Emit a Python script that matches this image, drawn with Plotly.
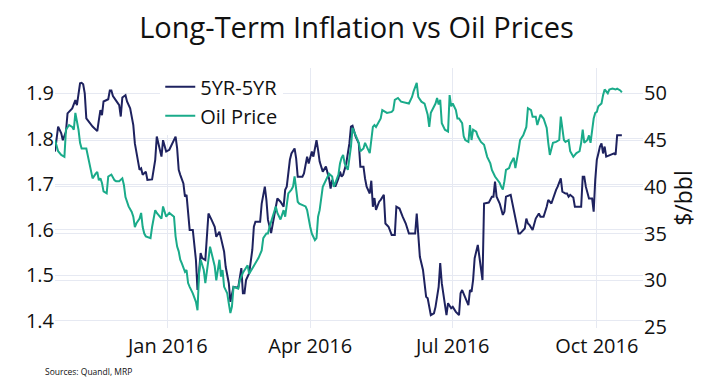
import plotly.graph_objects as go

inflation_dates = [
    "2015-10-21", "2015-10-23", "2015-10-25", "2015-10-26", "2015-10-28", "2015-10-29",
    "2015-11-01", "2015-11-03", "2015-11-04", "2015-11-06", "2015-11-07", "2015-11-08",
    "2015-11-09", "2015-11-10", "2015-11-14", "2015-11-17", "2015-11-18", "2015-11-19",
    "2015-11-20", "2015-11-21", "2015-11-24", "2015-11-25", "2015-11-26", "2015-11-27",
    "2015-11-29", "2015-12-01", "2015-12-02", "2015-12-03", "2015-12-05", "2015-12-06",
    "2015-12-08", "2015-12-10", "2015-12-11", "2015-12-13", "2015-12-14", "2015-12-15",
    "2015-12-16", "2015-12-18", "2015-12-19", "2015-12-22", "2015-12-24", "2015-12-25",
    "2015-12-26", "2015-12-28", "2015-12-29", "2015-12-31", "2016-01-02", "2016-01-04",
    "2016-01-06", "2016-01-07", "2016-01-08", "2016-01-09", "2016-01-11", "2016-01-12",
    "2016-01-13", "2016-01-15", "2016-01-17", "2016-01-19", "2016-01-20", "2016-01-22",
    "2016-01-23", "2016-01-25", "2016-01-27", "2016-01-29", "2016-01-31", "2016-02-01",
    "2016-02-03", "2016-02-04", "2016-02-06", "2016-02-07", "2016-02-09", "2016-02-10",
    "2016-02-12", "2016-02-15", "2016-02-17", "2016-02-18", "2016-02-19", "2016-02-20",
    "2016-02-22", "2016-02-24", "2016-02-25", "2016-02-26", "2016-02-29", "2016-03-01",
    "2016-03-03", "2016-03-04", "2016-03-05", "2016-03-07", "2016-03-09", "2016-03-11",
    "2016-03-13", "2016-03-15", "2016-03-16", "2016-03-17", "2016-03-19", "2016-03-20",
    "2016-03-22", "2016-03-23", "2016-03-24", "2016-03-27", "2016-03-28", "2016-03-30",
    "2016-03-31", "2016-04-02", "2016-04-03", "2016-04-05", "2016-04-06", "2016-04-07",
    "2016-04-09", "2016-04-11", "2016-04-13", "2016-04-14", "2016-04-15", "2016-04-17",
    "2016-04-19", "2016-04-20", "2016-04-21", "2016-04-22", "2016-04-24", "2016-04-26",
    "2016-04-27", "2016-04-28", "2016-04-30", "2016-05-02", "2016-05-03", "2016-05-05",
    "2016-05-06", "2016-05-07", "2016-05-09", "2016-05-10", "2016-05-11", "2016-05-12",
    "2016-05-13", "2016-05-15", "2016-05-16", "2016-05-18", "2016-05-19", "2016-05-21",
    "2016-05-23", "2016-05-25", "2016-05-26", "2016-05-28", "2016-05-30", "2016-06-01",
    "2016-06-03", "2016-06-07", "2016-06-08", "2016-06-09", "2016-06-10", "2016-06-12",
    "2016-06-13", "2016-06-14", "2016-06-15", "2016-06-16", "2016-06-17", "2016-06-19",
    "2016-06-20", "2016-06-22", "2016-06-23", "2016-06-24", "2016-06-26", "2016-06-27",
    "2016-06-28", "2016-06-30", "2016-07-01", "2016-07-03", "2016-07-05", "2016-07-06",
    "2016-07-07", "2016-07-09", "2016-07-11", "2016-07-12", "2016-07-13", "2016-07-14",
    "2016-07-15", "2016-07-17", "2016-07-19", "2016-07-20", "2016-07-21", "2016-07-23",
    "2016-07-24", "2016-07-26", "2016-07-27", "2016-07-28", "2016-07-29", "2016-07-31",
    "2016-08-02", "2016-08-03", "2016-08-04", "2016-08-07", "2016-08-10", "2016-08-11",
    "2016-08-12", "2016-08-13", "2016-08-15", "2016-08-16", "2016-08-17", "2016-08-18",
    "2016-08-19", "2016-08-21", "2016-08-23", "2016-08-25", "2016-08-26", "2016-08-28",
    "2016-08-30", "2016-08-31", "2016-09-02", "2016-09-03", "2016-09-05", "2016-09-06",
    "2016-09-08", "2016-09-09", "2016-09-11", "2016-09-12", "2016-09-13", "2016-09-14",
    "2016-09-16", "2016-09-17", "2016-09-21", "2016-09-22", "2016-09-23", "2016-09-24",
    "2016-09-26", "2016-09-28", "2016-09-29", "2016-09-30", "2016-10-01", "2016-10-02",
    "2016-10-03", "2016-10-04", "2016-10-05", "2016-10-06", "2016-10-07", "2016-10-12",
    "2016-10-13", "2016-10-14", "2016-10-17",
]
inflation_values = [
    1.772, 1.827, 1.812, 1.797, 1.816, 1.856,
    1.867, 1.885, 1.874, 1.922, 1.923, 1.920,
    1.900, 1.845, 1.827, 1.817, 1.841, 1.863,
    1.852, 1.882, 1.887, 1.906, 1.906, 1.894,
    1.884, 1.874, 1.849, 1.891, 1.896, 1.882,
    1.867, 1.830, 1.790, 1.746, 1.732, 1.735,
    1.721, 1.728, 1.710, 1.711, 1.754, 1.805,
    1.790, 1.761, 1.797, 1.772, 1.776, 1.790,
    1.805, 1.779, 1.732, 1.721, 1.702, 1.673,
    1.677, 1.600, 1.600, 1.534, 1.468, 1.549,
    1.538, 1.534, 1.636, 1.622, 1.607, 1.585,
    1.596, 1.582, 1.552, 1.519, 1.483, 1.442,
    1.475, 1.473, 1.516, 1.461, 1.461, 1.490,
    1.505, 1.556, 1.607, 1.618, 1.618, 1.658,
    1.695, 1.666, 1.622, 1.593, 1.636, 1.669,
    1.662, 1.651, 1.688, 1.695, 1.754, 1.768,
    1.779, 1.757, 1.717, 1.717, 1.724, 1.761,
    1.746, 1.772, 1.761, 1.797, 1.776, 1.750,
    1.728, 1.739, 1.713, 1.691, 1.710, 1.695,
    1.713, 1.728, 1.717, 1.721, 1.746, 1.790,
    1.827, 1.829, 1.805, 1.790, 1.739, 1.739,
    1.713, 1.695, 1.680, 1.708, 1.651, 1.670,
    1.644, 1.662, 1.666, 1.677, 1.614, 1.607,
    1.589, 1.589, 1.651, 1.647, 1.629, 1.614,
    1.592, 1.592, 1.636, 1.592, 1.541, 1.512,
    1.486, 1.453, 1.450, 1.431, 1.413, 1.417,
    1.431, 1.475, 1.527, 1.483, 1.431, 1.413,
    1.439, 1.428, 1.431, 1.420, 1.413, 1.461,
    1.468, 1.450, 1.435, 1.468, 1.464, 1.490,
    1.538, 1.567, 1.519, 1.490, 1.658, 1.660,
    1.660, 1.673, 1.673, 1.706, 1.673, 1.658,
    1.633, 1.640, 1.673, 1.677, 1.622, 1.607,
    1.592, 1.592, 1.600, 1.603, 1.625, 1.614,
    1.611, 1.600, 1.625, 1.636, 1.629, 1.629,
    1.651, 1.666, 1.658, 1.669, 1.688, 1.695,
    1.713, 1.684, 1.680, 1.680, 1.673, 1.677,
    1.671, 1.651, 1.651, 1.717, 1.717, 1.695,
    1.669, 1.669, 1.640, 1.710, 1.754, 1.768,
    1.783, 1.790, 1.768, 1.783, 1.761, 1.768,
    1.765, 1.808, 1.808,
]

oil_dates = [
    "2015-10-21", "2015-10-23", "2015-10-25", "2015-10-27", "2015-10-28", "2015-10-30",
    "2015-11-01", "2015-11-02", "2015-11-03", "2015-11-05", "2015-11-06", "2015-11-07",
    "2015-11-10", "2015-11-11", "2015-11-13", "2015-11-14", "2015-11-16", "2015-11-17",
    "2015-11-18", "2015-11-19", "2015-11-20", "2015-11-21", "2015-11-23", "2015-11-24",
    "2015-11-26", "2015-11-28", "2015-11-29", "2015-12-01", "2015-12-03", "2015-12-04",
    "2015-12-05", "2015-12-06", "2015-12-07", "2015-12-09", "2015-12-10", "2015-12-11",
    "2015-12-12", "2015-12-14", "2015-12-15", "2015-12-16", "2015-12-17", "2015-12-18",
    "2015-12-21", "2015-12-22", "2015-12-24", "2015-12-25", "2015-12-27", "2015-12-28",
    "2015-12-29", "2015-12-30", "2015-12-31", "2016-01-02", "2016-01-05", "2016-01-06",
    "2016-01-07", "2016-01-08", "2016-01-09", "2016-01-10", "2016-01-12", "2016-01-13",
    "2016-01-14", "2016-01-15", "2016-01-17", "2016-01-19", "2016-01-20", "2016-01-21",
    "2016-01-22", "2016-01-24", "2016-01-25", "2016-01-27", "2016-01-28", "2016-01-29",
    "2016-01-30", "2016-01-31", "2016-02-01", "2016-02-03", "2016-02-04", "2016-02-05",
    "2016-02-06", "2016-02-07", "2016-02-08", "2016-02-09", "2016-02-10", "2016-02-11",
    "2016-02-12", "2016-02-15", "2016-02-16", "2016-02-18", "2016-02-19", "2016-02-21",
    "2016-02-22", "2016-02-25", "2016-02-28", "2016-03-01", "2016-03-02", "2016-03-04",
    "2016-03-05", "2016-03-06", "2016-03-08", "2016-03-10", "2016-03-11", "2016-03-13",
    "2016-03-14", "2016-03-15", "2016-03-16", "2016-03-17", "2016-03-18", "2016-03-20",
    "2016-03-21", "2016-03-22", "2016-03-23", "2016-03-24", "2016-03-25", "2016-03-29",
    "2016-03-30", "2016-03-31", "2016-04-01", "2016-04-02", "2016-04-04", "2016-04-05",
    "2016-04-06", "2016-04-07", "2016-04-08", "2016-04-09", "2016-04-11", "2016-04-13",
    "2016-04-15", "2016-04-16", "2016-04-17", "2016-04-19", "2016-04-20", "2016-04-21",
    "2016-04-22", "2016-04-23", "2016-04-25", "2016-04-27", "2016-04-28", "2016-04-30",
    "2016-05-02", "2016-05-03", "2016-05-05", "2016-05-06", "2016-05-07", "2016-05-09",
    "2016-05-11", "2016-05-12", "2016-05-13", "2016-05-16", "2016-05-17", "2016-05-19",
    "2016-05-20", "2016-05-23", "2016-05-24", "2016-05-25", "2016-05-27", "2016-05-29",
    "2016-06-02", "2016-06-03", "2016-06-05", "2016-06-06", "2016-06-08", "2016-06-09",
    "2016-06-11", "2016-06-13", "2016-06-15", "2016-06-16", "2016-06-17", "2016-06-19",
    "2016-06-20", "2016-06-21", "2016-06-22", "2016-06-23", "2016-06-24", "2016-06-26",
    "2016-06-28", "2016-06-29", "2016-06-30", "2016-07-01", "2016-07-03", "2016-07-04",
    "2016-07-05", "2016-07-07", "2016-07-08", "2016-07-09", "2016-07-11", "2016-07-12",
    "2016-07-13", "2016-07-14", "2016-07-16", "2016-07-17", "2016-07-19", "2016-07-21",
    "2016-07-23", "2016-07-25", "2016-07-26", "2016-07-28", "2016-07-31", "2016-08-01",
    "2016-08-02", "2016-08-03", "2016-08-04", "2016-08-06", "2016-08-07", "2016-08-09",
    "2016-08-10", "2016-08-12", "2016-08-13", "2016-08-15", "2016-08-17", "2016-08-18",
    "2016-08-20", "2016-08-21", "2016-08-23", "2016-08-24", "2016-08-25", "2016-08-26",
    "2016-08-28", "2016-08-30", "2016-08-31", "2016-09-01", "2016-09-03", "2016-09-05",
    "2016-09-07", "2016-09-08", "2016-09-10", "2016-09-11", "2016-09-13", "2016-09-14",
    "2016-09-16", "2016-09-18", "2016-09-20", "2016-09-21", "2016-09-22", "2016-09-23",
    "2016-09-25", "2016-09-26", "2016-09-27", "2016-09-29", "2016-09-30", "2016-10-01",
    "2016-10-02", "2016-10-04", "2016-10-05", "2016-10-06", "2016-10-08", "2016-10-09",
    "2016-10-11", "2016-10-13", "2016-10-14", "2016-10-16", "2016-10-17",
]
oil_values = [
    45.0, 43.8, 43.4, 43.2, 46.1, 46.6,
    46.4, 46.1, 47.9, 46.1, 44.7, 44.1,
    44.1, 43.2, 41.8, 40.9, 41.4, 41.6,
    40.7, 40.9, 40.4, 39.5, 39.3, 41.1,
    41.3, 40.7, 40.6, 40.6, 40.9, 40.2,
    38.9, 38.4, 37.9, 37.3, 36.8, 35.7,
    36.1, 36.6, 37.2, 35.7, 35.0, 34.7,
    34.5, 35.7, 37.5, 37.2, 36.8, 36.6,
    37.9, 37.3, 36.8, 37.2, 36.8, 34.7,
    33.6, 33.1, 32.2, 31.8, 30.9, 31.1,
    29.7, 29.3, 28.6, 27.7, 26.8, 30.7,
    32.2, 31.1, 29.7, 32.2, 33.6, 32.9,
    32.2, 31.5, 30.0, 32.2, 30.4, 31.1,
    29.3, 29.0, 28.6, 27.5, 26.5, 27.2,
    29.3, 29.1, 30.0, 30.8, 31.1, 31.6,
    30.7, 31.5, 32.4, 33.2, 34.5, 35.0,
    35.0, 35.7, 36.8, 37.9, 37.2, 36.5,
    37.0, 37.5, 36.8, 38.2, 39.3, 39.7,
    40.0, 41.1, 39.8, 38.4, 38.2, 37.9,
    37.5, 36.5, 35.7, 35.0, 34.3, 34.5,
    36.8, 37.5, 38.9, 40.0, 40.7, 41.4,
    41.1, 40.0, 40.4, 41.3, 42.5, 43.1,
    43.4, 42.5, 41.8, 44.3, 46.3, 45.4,
    44.7, 43.8, 44.1, 44.7, 44.3, 43.6,
    46.4, 46.6, 46.4, 47.3, 48.2, 48.0,
    47.9, 48.0, 48.2, 49.3, 49.5, 49.1,
    49.0, 48.9, 49.6, 50.2, 51.1, 49.6,
    49.1, 48.9, 47.7, 46.4, 47.9, 48.6,
    48.9, 49.5, 48.8, 49.3, 46.8, 46.1,
    45.9, 49.8, 48.6, 48.9, 48.2, 47.3,
    47.3, 46.8, 45.4, 45.0, 44.8, 46.6,
    45.0, 46.1, 45.9, 45.4, 44.8, 44.5,
    43.2, 42.5, 41.8, 41.1, 40.4, 40.0,
    39.7, 40.6, 41.8, 42.0, 42.5, 43.1,
    42.0, 43.9, 45.0, 45.5, 46.4, 48.4,
    48.2, 47.5, 47.5, 46.6, 47.2, 47.7,
    47.3, 46.3, 44.7, 43.4, 44.7, 44.8,
    45.0, 47.5, 45.0, 44.8, 45.0, 43.8,
    43.2, 43.6, 43.8, 44.7, 46.1, 44.7,
    45.0, 45.5, 44.7, 47.3, 47.9, 48.0,
    48.6, 48.9, 49.8, 50.4, 50.0, 50.4,
    50.5, 50.4, 50.5, 50.3, 50.1,
]

series_names = ["5YR-5YR", "Oil Price"]
left_ticks = [1.4, 1.5, 1.6, 1.7, 1.8, 1.9]
right_ticks = [25, 30, 35, 40, 45, 50]

NAVY = "#1e225f"
GREEN = "#1aab8a"
GRID = "#e6e9f2"
FONT = '"Open Sans", verdana, arial, sans-serif'

fig = go.Figure()
fig.add_trace(go.Scatter(x=inflation_dates, y=inflation_values, mode="lines",
                         name=series_names[0], line=dict(color=NAVY, width=2)))
fig.add_trace(go.Scatter(x=oil_dates, y=oil_values, mode="lines", yaxis="y2",
                         name=series_names[1], line=dict(color=GREEN, width=2)))

# the page body adds an 8px offset, so the figure is drawn 8px smaller
fig.update_layout(
    width=697, height=376, autosize=False,
    margin=dict(l=47, r=55, t=60, b=56),
    paper_bgcolor="white", plot_bgcolor="white",
    font=dict(family=FONT, color="#111111", size=20),
    title=dict(text="Long-Term Inflation vs Oil Prices", x=0.5, xanchor="center",
               y=0.948, yanchor="middle", font=dict(size=29, color="#111111")),
    xaxis=dict(type="date", range=["2015-10-21", "2016-10-30 12:00"],
               tick0="2016-01-01", dtick="M3", tickformat="%b %Y",
               showgrid=True, gridcolor=GRID, zeroline=False, showline=False,
               ticks="", tickfont=dict(size=20), ticklabelstandoff=4),
    yaxis=dict(range=[1.3846, 1.9556], tickvals=left_ticks, tickformat=".1f",
               showgrid=True, gridcolor=GRID, zeroline=False, showline=False,
               ticks="", tickfont=dict(size=20)),
    yaxis2=dict(range=[24.9, 52.7], tickvals=right_ticks, overlaying="y", side="right",
                showgrid=True, gridcolor=GRID, zeroline=False, showline=False,
                ticks="", tickfont=dict(size=20),
                title=dict(text="$/bbl", font=dict(size=23), standoff=10)),
    legend=dict(x=0.179, y=1.003, xanchor="left", yanchor="top",
                bgcolor="white", font=dict(size=20)),
    annotations=[dict(text="Sources: Quandl, MRP", xref="paper", yref="paper",
                      x=-0.02, y=-0.169, xanchor="left", yanchor="middle",
                      showarrow=False, font=dict(size=8.5, color="#111111"))],
)

fig.write_html("out.html")
